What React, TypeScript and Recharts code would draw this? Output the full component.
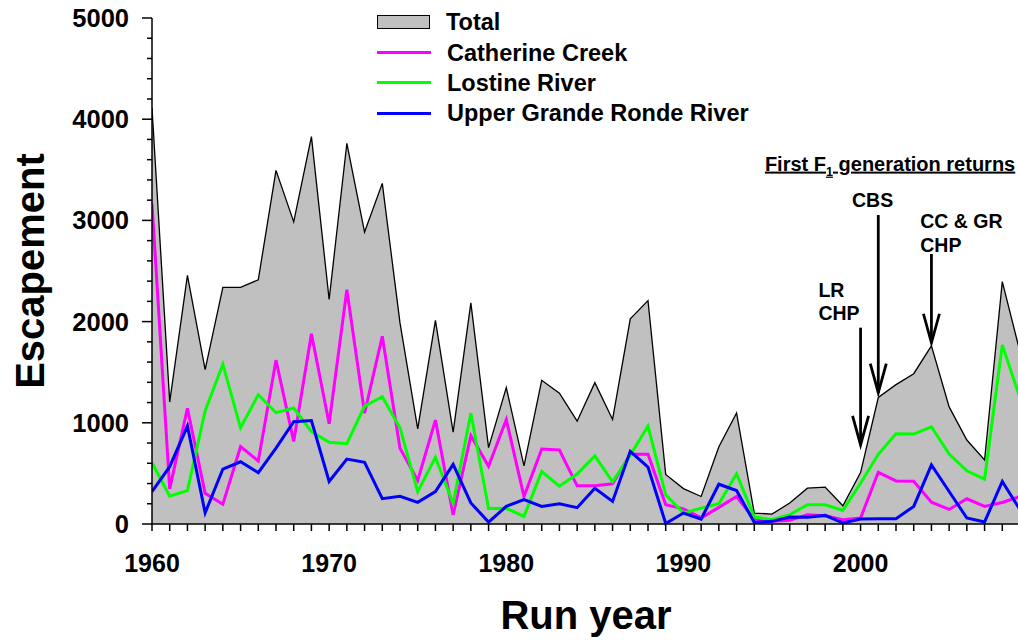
import React from 'react';
import { ComposedChart, Area, Line, XAxis, YAxis, ReferenceLine, ReferenceDot, Label } from 'recharts';

const years = [
  1960, 1961, 1962, 1963, 1964, 1965, 1966, 1967, 1968, 1969,
  1970, 1971, 1972, 1973, 1974, 1975, 1976, 1977, 1978, 1979,
  1980, 1981, 1982, 1983, 1984, 1985, 1986, 1987, 1988, 1989,
  1990, 1991, 1992, 1993, 1994, 1995, 1996, 1997, 1998, 1999,
  2000, 2001, 2002, 2003, 2004, 2005, 2006, 2007, 2008, 2009,
];

const totalEscapement = [
  4110, 1207, 2456, 1525, 2339, 2339, 2413, 3494, 2985, 3828,
  2218, 3762, 2885, 3366, 1987, 940, 2012, 908, 2185, 755,
  1348, 575, 1420, 1292, 1016, 1397, 1033, 2027, 2207, 490,
  350, 272, 764, 1098, 108, 98, 207, 354, 364, 180,
  508, 1250, 1377, 1485, 1760, 1157, 830, 633, 2395, 1700,
];

const catherineCreek = [
  3165, 347, 1144, 304, 196, 766, 622, 1619, 816, 1880,
  990, 2315, 1096, 1855, 749, 431, 1027, 89, 873, 571,
  1032, 272, 741, 731, 377, 378, 397, 690, 690, 190,
  150, 60, 164, 272, 43, 26, 36, 92, 82, 43,
  59, 511, 426, 423, 216, 144, 249, 174, 213, 272,
];

const lostineRiver = [
  605, 274, 330, 1117, 1579, 950, 1278, 1100, 1146, 913,
  807, 793, 1165, 1258, 950, 320, 658, 203, 1094, 153,
  155, 75, 518, 374, 494, 673, 416, 680, 968, 288,
  108, 157, 200, 495, 69, 43, 92, 190, 190, 134,
  403, 689, 892, 889, 961, 692, 525, 443, 1770, 1245,
];

const upperGrandeRonde = [
  320, 566, 968, 110, 543, 615, 507, 749, 1010, 1023,
  420, 641, 610, 250, 273, 214, 320, 589, 208, 19,
  174, 242, 174, 200, 161, 354, 223, 718, 562, 5,
  108, 49, 393, 331, 16, 26, 69, 66, 85, 10,
  49, 52, 52, 174, 584, 321, 59, 20, 420, 141,
];

const yAxisTicks = [
  0, 200, 400, 600, 800, 1000, 1200, 1400, 1600, 1800, 2000, 2200, 2400, 2600,
  2800, 3000, 3200, 3400, 3600, 3800, 4000, 4200, 4400, 4600, 4800, 5000,
];
const yLabelStep = 1000;
const xLabelStep = 10;

const seriesNames = ['Total', 'Catherine Creek', 'Lostine River', 'Upper Grande Ronde River'];
const seriesColors = ['#c0c0c0', '#ff00ff', '#00ff00', '#0000ff'];

const arrows = [
  { year: 2000, from: 1940, to: 781 },
  { year: 2001, from: 3053, to: 1297 },
  { year: 2004, from: 2668, to: 1791 },
];

const annotationTexts = [
  { year: 1997.62, value: 2243, text: 'LR', anchor: 'start' },
  { year: 1997.62, value: 2016, text: 'CHP', anchor: 'start' },
  { year: 2000.68, value: 3132, text: 'CBS', anchor: 'middle' },
  { year: 2003.37, value: 2925, text: 'CC & GR', anchor: 'start' },
  { year: 2003.37, value: 2688, text: 'CHP', anchor: 'start' },
];

const headerNote = { year: 1994.6, value: 3492, text: 'First F', sub: '1', rest: ' generation returns' };

const data = years.map((year, i) => ({
  year,
  total: totalEscapement[i],
  catherine: catherineCreek[i],
  lostine: lostineRiver[i],
  upper: upperGrandeRonde[i],
}));

const FONT = '"Liberation Sans", Arial, Helvetica, sans-serif';

const XTick = (props: any) => {
  const { x, y, payload } = props;
  const v = payload.value;
  return (
    <g>
      <line x1={x} y1={y} x2={x} y2={y + 7} stroke="#000" strokeWidth={1.5} />
      {v % xLabelStep === 0 ? (
        <text x={x} y={y + 48} textAnchor="middle" fontFamily={FONT} fontWeight="bold" fontSize={25} fill="#000">
          {v}
        </text>
      ) : null}
    </g>
  );
};

const YTick = (props: any) => {
  const { x, y, payload } = props;
  const v = payload.value;
  const major = v % yLabelStep === 0;
  return (
    <g>
      <line x1={x} y1={y} x2={x - (major ? 10 : 5)} y2={y} stroke="#000" strokeWidth={1.5} />
      {major ? (
        <text x={x - 23} y={y + 9} textAnchor="end" fontFamily={FONT} fontWeight="bold" fontSize={25.5} fill="#000">
          {v}
        </text>
      ) : null}
    </g>
  );
};

const ArrowShape = (props: any) => {
  const { x1, y1, x2, y2 } = props;
  if (x1 == null || y1 == null) return null;
  const tipX = x2;
  const tipY = y2;
  return (
    <g>
      <line x1={x1} y1={y1} x2={tipX} y2={tipY} stroke="#000" strokeWidth={2.8} />
      <polyline
        points={`${tipX - 8},${tipY - 29} ${tipX},${tipY} ${tipX + 8},${tipY - 29}`}
        fill="none"
        stroke="#000"
        strokeWidth={2.8}
      />
    </g>
  );
};

const makeTextShape = (text: string, anchor: string) => (props: any) => {
  const { cx, cy } = props;
  return (
    <text x={cx} y={cy} textAnchor={anchor} fontFamily={FONT} fontWeight="bold" fontSize={19.5} fill="#000">
      {text}
    </text>
  );
};

const HeaderShape = (props: any) => {
  const { cx, cy } = props;
  return (
    <text
      x={cx}
      y={cy}
      textAnchor="start"
      fontFamily={FONT}
      fontWeight="bold"
      fontSize={20}
      fill="#000"
      style={{ textDecoration: 'underline' }}
    >
      {headerNote.text}
      <tspan fontSize={12.5} dy={5}>{headerNote.sub}</tspan>
      <tspan dy={-5}>{headerNote.rest}</tspan>
    </text>
  );
};

const LegendBox = () => (
  <div
    style={{
      position: 'absolute',
      left: 377,
      top: 7,
      fontFamily: FONT,
      fontWeight: 'bold',
      fontSize: 23.5,
      color: '#000',
      lineHeight: 1,
    }}
  >
    {seriesNames.map((name, i) => (
      <div key={name} style={{ height: 30.3, display: 'flex', alignItems: 'center' }}>
        {i === 0 ? (
          <div
            style={{
              width: 51,
              height: 12,
              background: seriesColors[i],
              border: '1.5px solid #000',
              boxSizing: 'content-box',
            }}
          />
        ) : (
          <div style={{ width: 54, height: 3, background: seriesColors[i] }} />
        )}
        <span style={{ marginLeft: 16, whiteSpace: 'nowrap', position: 'relative', top: 1 }}>{name}</span>
      </div>
    ))}
  </div>
);

export default function App() {
  return (
    <div
      style={{
        position: 'absolute',
        left: 0,
        top: 0,
        width: 1018,
        height: 640,
        overflow: 'hidden',
        background: '#fff',
      }}
    >
      <ComposedChart width={1020} height={640} data={data} margin={{ top: 18, right: 0, bottom: 0, left: 0 }}>
        <XAxis
          dataKey="year"
          type="number"
          domain={[1960, 2009]}
          ticks={years}
          interval={0}
          height={116}
          tickSize={0}
          tickMargin={0}
          tick={<XTick />}
          axisLine={{ stroke: '#000', strokeWidth: 1.5 }}
          allowDataOverflow
        >
          <Label
            content={(p: any) => {
              const vb = p.viewBox;
              return (
                <text
                  x={vb.x + vb.width / 2}
                  y={vb.y + 105}
                  textAnchor="middle"
                  fontFamily={FONT}
                  fontWeight="bold"
                  fontSize={40}
                  fill="#000"
                >
                  Run year
                </text>
              );
            }}
          />
        </XAxis>
        <YAxis
          type="number"
          domain={[0, 5000]}
          ticks={yAxisTicks}
          interval={0}
          width={152}
          tickSize={0}
          tickMargin={0}
          tick={<YTick />}
          axisLine={{ stroke: '#000', strokeWidth: 1.5 }}
        >
          <Label
            content={(p: any) => {
              const vb = p.viewBox;
              const cx = vb.x + 30;
              const cy = vb.y + vb.height / 2;
              return (
                <text
                  x={cx}
                  y={cy}
                  dy={14}
                  textAnchor="middle"
                  transform={`rotate(-90, ${cx}, ${cy})`}
                  fontFamily={FONT}
                  fontWeight="bold"
                  fontSize={40}
                  fill="#000"
                >
                  Escapement
                </text>
              );
            }}
          />
        </YAxis>
        <Area
          type="linear"
          dataKey="total"
          name={seriesNames[0]}
          fill={seriesColors[0]}
          fillOpacity={1}
          stroke="#000"
          strokeWidth={1.3}
          dot={false}
          activeDot={false}
          isAnimationActive={false}
        />
        <Line type="linear" dataKey="catherine" name={seriesNames[1]} stroke={seriesColors[1]} strokeWidth={3} dot={false} activeDot={false} isAnimationActive={false} />
        <Line type="linear" dataKey="lostine" name={seriesNames[2]} stroke={seriesColors[2]} strokeWidth={3} dot={false} activeDot={false} isAnimationActive={false} />
        <Line type="linear" dataKey="upper" name={seriesNames[3]} stroke={seriesColors[3]} strokeWidth={3} dot={false} activeDot={false} isAnimationActive={false} />
        {arrows.map((a, i) => (
          <ReferenceLine
            key={`arrow-${i}`}
            segment={[{ x: a.year, y: a.from }, { x: a.year, y: a.to }]}
            ifOverflow="visible"
            shape={<ArrowShape />}
          />
        ))}
        {annotationTexts.map((t, i) => (
          <ReferenceDot
            key={`txt-${i}`}
            x={t.year}
            y={t.value}
            r={0}
            ifOverflow="visible"
            shape={makeTextShape(t.text, t.anchor)}
          />
        ))}
        <ReferenceDot x={headerNote.year} y={headerNote.value} r={0} ifOverflow="visible" shape={<HeaderShape />} />
      </ComposedChart>
      <LegendBox />
    </div>
  );
}
